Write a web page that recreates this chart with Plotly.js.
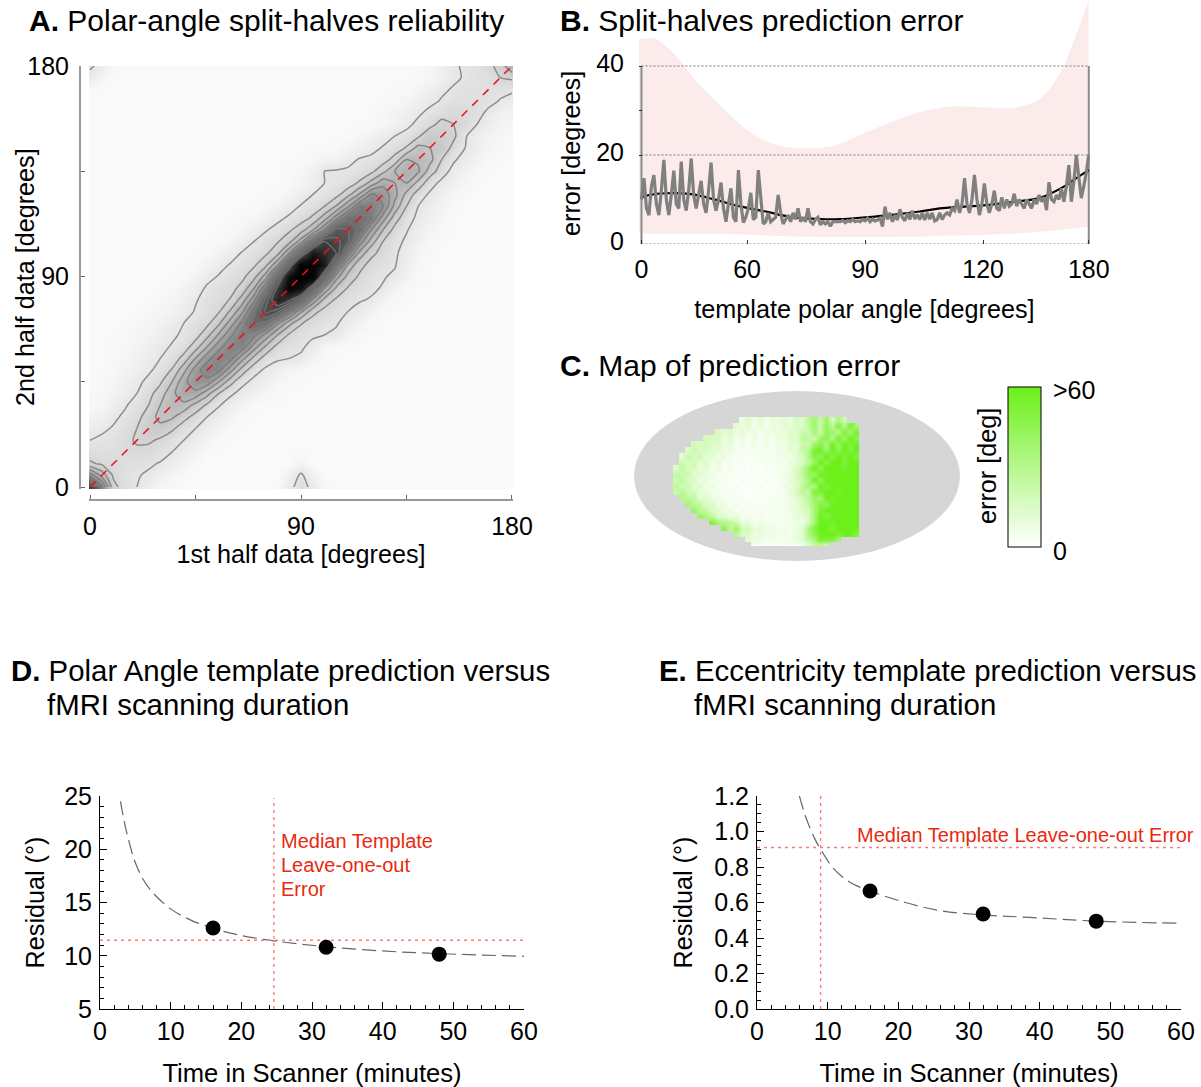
<!DOCTYPE html>
<html><head><meta charset="utf-8">
<script src="https://cdn.plot.ly/plotly-3.0.1.min.js"></script>
<style>html,body{margin:0;padding:0;background:#fff}</style></head>
<body><div id="chart" style="width:1201px;height:1087px"></div>
<script>
// ---------- Panel A: density (5 degree grid, 0-100 darkness) ----------
const reliabilityAxis = [0,5,10,15,20,25,30,35,40,45,50,55,60,65,70,75,80,85,90,95,100,105,110,115,120,125,130,135,140,145,150,155,160,165,170,175,180];
const reliabilityBackground = 2.5;
const reliabilityRowStart = [0,0,0,0,0,0,0,0,0,0,0,0,0,0,0,0,6,7,8,8,10,11,12,13,15,16,17,17,19,21,23,25,25,26,27,28,28];
const reliabilityRows = [
[70,42,18,13,10,7,4,3,2,2,2,2,2,2,2,2,3,8,13,8,3],
[38,26,15,12,10.5,9,6,4,3,2,2,2,2,2,2,2,2,6,11,6,2],
[17,15,14,13,12,11,9.5,7,5,3,2,2,2,2,2,2,2,2,5,2,2],
[13,12.5,13,14,14.5,14,12.5,10,7,5,3],
[10,11,12,14,17,17,15,12.5,10,7,5,3],
[7,9,10.5,13,16,20,20,17,13,10,7,5,3],
[5,6,9,11,14,19,24,23,18,14,10,7,5,3],
[3,4,6.5,9.5,12,16,22,27,26,20,15,10.5,7,5,3],
[2.5,3.5,5,7.5,10,14,19,26,33,32,24,16,11,8,6,4,3],
[2.5,3,4,6,8.5,11.5,15,22,32,39,38,28,18,11.5,8.5,6,4,3],
[2.5,2.5,3.5,5,6.5,9,12,16.5,26,37,44,42,30,19,12,9,6.5,4.5,3],
[2.5,2.5,3,4,5.5,7.5,10,12.5,18,28,38,44,42,30,20,13,11,10,9,5,3],
[2.5,2.5,3,3.5,5,6.5,8.5,10.5,13,19,28,38,44,44,31,21,14,12,11,8,4,3],
[2.5,2.5,2.5,3,4,5,7,9,11,13.5,20,29,39,46,42,32,22,15,12.5,11,10,9,5,3],
[2.5,2.5,2.5,2.5,3,4,5.5,7.5,10,12,14.5,21,31,42,54,50,35,24,16.5,13,11.5,10.5,8,5,3],
[2.5,2.5,2.5,2.5,2.5,3,4,5.5,7.5,10.5,13,15.5,23,33,50,66,60,44,29,18,14,12,10,8,5,3],
[3.5,4.5,6,9.5,12,13.5,16.5,25,38,60,80,72,56,33,20,15,12,10.5,9.5,5,3],
[3.5,5,7,11,12.5,14,18,28,46,72,94,88,60,34,21,15.5,12.5,11,9.5,5,3],
[3.5,5,8,10.5,12,14.5,20,31,56,88,100,96,58,31,20,15,12,10.5,9,5,3],
[2.5,3.5,5.5,8,10.5,12,15,20.5,33,60,96,94,84,50,27,18,14,12,10.5,6,3.5],
[3.5,5,7.5,10.5,12.5,15,20,34,58,84,76,70,44,26,17.5,14,11,7.5,4,3],
[3,4.5,7,10,12.5,15.5,20,31,50,70,66,60,38,25,16,12,9,6,3.5],
[3,4.5,6.5,9.5,12,15,19,27,40,60,58,50,34,22,14,10.5,7,4.5,3],
[3,4,6,8.5,11,13.5,17,25,37,50,50,46,31,19,12,9,6,4,2.5],
[3.5,5,7.5,10.5,12.5,16,22.5,33,46,45,40,26,16,10,7.5,5,3],
[3,4.5,7,10,11.5,14,20,29,41,38,30,20,13,9,6.5,4,2.5],
[3,4.5,7,10,11,12.5,17,24,32,28,28,20,12.5,8.5,6,4,2.5],
[3,4,6,10,10.5,11,12,14.5,20,28,30,29,19,13,8,5.5,3.5,2.5],
[3.5,5,6,8,10.5,11.5,13.5,18,28,27,24,16,11,7.5,5,3],
[3,4.5,6,8,10.5,13,16.5,24,22,21,14,10,6.5,4.5,3],
[4,5.5,7.5,10,12,15,21,19,17.5,10.5,7,5,4,3],
[3.5,5,8.5,11.5,14,18,16,15,10,7,5,4],
[3.5,5,6.5,9,11.5,13.5,15,14,12.5,8.5,6,5],
[3,4.5,6,8.5,10.5,12.5,12.5,12.5,12,9.5,8],
[3,4.5,6,9,10.5,12,12,12,12,11],
[3,4,6,9,10.5,12,13,16,17],
[3,4,6.5,9.5,10.5,12,14.5,18,28]
];
const topLeftSpotColumns = [[8,4],[11,8,3]]; // rows at 175 and 180 degrees
const identityX = [0,180];
const identityY = [0,180];

// ---------- Panel B ----------
const bandX = [-1,2,6,13,23,35,43.5,55,68,78,89.5,101,112.5,125,140,151,161,168.5,174,180];
const bandUpper = [46,46.2,46,42.8,36,29.4,25.2,22.2,21.5,22.2,24.9,27.5,29.7,30.9,30.7,30.7,33,38.4,45.8,54.8];
const bandLower = [2.3,2.3,2.3,2.3,2.3,2.2,2.1,1.8,1.6,1.6,1.6,1.6,1.7,1.9,2.1,2.4,2.8,3.2,3.5,3.9];
const meanX = [0,3,10,20,30,40,50,60,72,80,90,100,112,120,130,140,150,160,170,175,180];
const meanError = [10.5,11,11.4,11.2,9.9,8.4,7.3,6.1,5.6,5.6,6,6.5,7.3,8,8.4,8.8,9.5,10.3,12.9,14.8,16.6];
const splitError = [
10,14.8,8,6.5,13,15.5,9,6.5,12,18.9,
10,6.5,11,16.5,9,8,18.5,10,7.5,12,
19.2,11,8,11,14.2,9,7,12,18.3,10,
7.5,10,13.8,8,5,9,12.5,6,5,16.6,
9,4.8,6,8,11.5,5.5,6,16.6,10,4.5,
5,7,5,5.5,6,11,7,4.5,5.5,6.5,
5,7,5.5,8,5,6,5,8,5,4.5,
5.5,6,4.3,5,4.5,5,4,5,5,5,
5,5.3,4.8,5.2,5,5.5,5,5.2,5,5.5,
5.2,5.8,5,5.6,5.2,5.4,5.8,3.9,8.4,5.5,
7,5,6.5,5.4,7.8,6,5.2,7,5.5,7.5,
5.6,6.6,5.5,7,5.4,7,5.6,7,5.2,5.5,
7,5.5,6.5,7,6.5,8,7.5,10,7,9,
14.8,9,7,10,15.5,10,6.5,9,13.6,9,
7,9,12,8,7.5,10.5,8,10,8.5,9,
11.3,8.5,10,9,8,10,9,8,10,9,
11,9.5,10.5,7.6,13.9,10,9.5,11,10,12.5,
9.5,13,17.7,9.5,14,20,15,10.3,13,16,
20];
const errorGridLevels = [0,20,40];
const errorTickVals = [0,42.5,90,137.5,180];
const errorTickText = ['0','60','90','120','180'];

// ---------- Panel C: map cells, error in degrees ----------
const mapX = [676,682,688,694,700,706,712,718,724,730,736,742,748,754,760,766,772,778,784,790,796,802,808,814,820,826,832,838,844,850,856];
const mapY = [420,426,432,438,444,450,456,462,468,474,480,486,492,498,504,510,516,522,528,534,540,544];
const mapRowStart = [11,10,7,5,3,2,1,1,0,0,0,0,0,1,2,3,4,6,8,10,12,13];
const mapRows = [
[8,14,5,12,5,10,8,12,9,16,14,28,38,22,40,18,34,20],
[12,8,12,5,10,4,9,7,12,9,16,14,26,38,22,44,28,50,30,54,36],
[16,12,14,7,11,6,9,5,8,6,10,7,14,12,22,20,36,22,44,40,28,54,38,56],
[18,15,16,8,12,5,9,3,8,3,7,4,9,8,14,14,26,26,20,40,46,30,56,38,58,46],
[18,16,18,14,12,8,10,4,7,4,6,3,7,3,8,6,12,10,22,20,38,48,32,58,42,60,52,60],
[14,22,15,18,12,12,6,8,4,5,2,6,3,5,4,7,6,12,10,24,28,54,58,40,60,46,60,50,60],
[12,24,16,20,10,13,6,9,4,5,3,4,2,5,3,5,4,8,7,12,16,32,52,44,60,48,60,52,60,50],
[20,16,20,10,14,6,10,3,6,2,4,1,4,2,4,3,5,4,8,10,16,26,40,60,48,60,60,52,60,60],
[14,26,16,18,9,12,5,8,3,5,2,3,1,4,1,4,2,5,5,8,14,24,42,60,44,60,60,60,54,60,60],
[24,20,20,10,13,6,8,3,5,2,3,1,3,1,3,2,4,3,7,8,16,26,40,40,60,56,60,60,60,60,60],
[20,26,14,16,7,10,4,6,2,3,1,3,1,3,1,3,2,4,4,10,14,22,34,58,44,60,60,60,60,60,60],
[26,18,22,9,13,5,8,3,5,2,3,1,3,1,3,1,4,2,7,8,14,24,36,32,60,52,60,60,60,60,60],
[22,30,18,20,8,11,5,7,3,5,2,3,1,3,2,4,2,5,5,10,16,26,24,52,52,60,60,56,60,60,60],
[30,26,24,12,14,7,8,3,6,2,4,1,3,2,4,2,5,4,8,12,18,26,40,34,60,56,60,60,60,60],
[36,26,26,12,15,6,9,3,6,2,4,2,4,2,5,3,6,6,10,16,24,36,52,44,60,60,60,60,60],
[42,26,24,14,13,6,9,4,6,2,4,3,4,3,5,4,8,9,14,18,36,52,60,60,60,60,60,60],
[40,34,26,12,13,6,10,4,6,3,5,2,5,4,5,5,10,10,18,36,60,50,60,60,60,60,60],
[50,35,28,28,20,8,11,5,7,4,5,4,5,4,8,8,16,36,60,60,56,60,60,60,60],
[46,24,40,18,18,9,11,6,8,4,7,4,8,10,34,50,60,60,52,60,60,60,60],
[30,16,14,8,9,6,7,5,6,5,9,12,32,44,60,60,60,54,60,60,50],
[12,8,8,5,6,4,5,5,8,14,24,34,54,50,52,36],
[5,4,3,3,3,4,4,4,6,14,24,30,24]
];

// ---------- Panels D and E ----------
const scanMinutes = [16,32,48];
const polarResidual = [12.6,10.8,10.15];
const polarFitX = [2.9,3.7,5.2,7,10,13,16,18.6,24.6,32,40,48,60];
const polarFitY = [24.5,21.8,18.4,16.3,14.4,13.3,12.6,12.1,11.4,10.85,10.45,10.2,9.95];
const polarMedianMinutes = 24.6;
const polarMedianError = 11.45;
const eccResidual = [0.665,0.535,0.495];
const eccFitX = [6,7,8.2,9,10.9,13.2,16,21,26,32,38.6,48,60];
const eccFitY = [1.2,1.07,0.957,0.9,0.788,0.713,0.665,0.6,0.553,0.53,0.516,0.495,0.483];
const eccMedianMinutes = 9;
const eccMedianError = 0.91;

// ---------- helpers ----------
const W = 1201, H = 1087;
const FONT = 'Liberation Sans, Arial, Helvetica, sans-serif';
const domX = (a,b) => [a/W, b/W];
const domY = (top,bottom) => [1-bottom/H, 1-top/H];
const reliabilityZ = reliabilityRows.map((vals,i) => {
  const row = reliabilityAxis.map(() => reliabilityBackground);
  vals.forEach((v,k) => { row[reliabilityRowStart[i]+k] = v; });
  return row;
});
topLeftSpotColumns[0].forEach((v,k) => { reliabilityZ[35][k] = v; });
topLeftSpotColumns[1].forEach((v,k) => { reliabilityZ[36][k] = v; });
const mapZ = mapRows.map((vals,i) => {
  const row = mapX.map(() => null);
  vals.forEach((v,k) => { row[mapRowStart[i]+k] = v; });
  return row;
});
const note = (text,x,y,size,extra) => Object.assign({
  text, x:x/W, y:1-y/H, xref:'paper', yref:'paper', xanchor:'left', yanchor:'middle',
  showarrow:false, font:{family:FONT,size,color:'#000'}, align:'left'
}, extra||{});
const RED = '#ff7a7a', RTEXT = '#e8290f';
const TS = 25, TL = 25.2, TA = 30, TD = 29.4, TR = 20;
const redNote = (text,x,y) => note(text,x,y,TR,{font:{family:FONT,size:TR,color:RTEXT}});

const traces = [
  {type:'heatmap', x:reliabilityAxis, y:reliabilityAxis, z:reliabilityZ, zmin:0, zmax:100, zsmooth:'best', showscale:false,
   colorscale:[[0,'#ffffff'],[0.1,'#e6e6e6'],[0.3,'#b0b0b0'],[0.46,'#7c7c7c'],[0.7,'#3c3c3c'],[0.88,'#0c0c0c'],[1,'#000000']], xaxis:'x', yaxis:'y', hoverinfo:'skip'},
  {type:'contour', x:reliabilityAxis, y:reliabilityAxis, z:reliabilityZ, showscale:false, autocontour:false,
   contours:{coloring:'lines', start:10, end:70, size:6, showlabels:false}, zmin:10, zmax:70,
   colorscale:[[0,'#8e8e8e'],[1,'#6a6a6a']], line:{width:1.5, smoothing:0.6}, xaxis:'x', yaxis:'y', hoverinfo:'skip'},
  {type:'scatter', mode:'lines', x:identityX, y:identityY, line:{color:'#f01010',width:1.5,dash:'8px,7px'}, xaxis:'x', yaxis:'y'},

  {type:'scatter', mode:'lines', x:bandX, y:bandLower, line:{width:0,shape:'spline'}, xaxis:'x2', yaxis:'y2', hoverinfo:'skip'},
  {type:'scatter', mode:'lines', x:bandX, y:bandUpper, line:{width:0,shape:'spline'}, fill:'tonexty', fillcolor:'#fbeceb', xaxis:'x2', yaxis:'y2', hoverinfo:'skip'},
  ...errorGridLevels.map(level => ({type:'scatter', mode:'lines', x:[0,180], y:[level,level], line:{color:'#777',width:1,dash:'2px,2px'}, xaxis:'x2', yaxis:'y2'})),
  {type:'scatter', mode:'lines', x:[0,0], y:[0,40], line:{color:'#8a8a8a',width:2}, xaxis:'x2', yaxis:'y2'},
  {type:'scatter', mode:'lines', x:[180,180], y:[0,40], line:{color:'#8a8a8a',width:2}, xaxis:'x2', yaxis:'y2'},
  {type:'scatter', mode:'lines', x:meanX, y:meanError, line:{color:'#000',width:2.2,shape:'spline'}, xaxis:'x2', yaxis:'y2'},
  {type:'scatter', mode:'lines', x0:0, dx:1, y:splitError, line:{color:'#808080',width:3.2}, xaxis:'x2', yaxis:'y2'},

  {type:'heatmap', x:mapX, y:mapY, z:mapZ, zmin:0, zmax:60, zsmooth:'best', xaxis:'x3', yaxis:'y3', hoverinfo:'skip',
   colorscale:[[0,'#ffffff'],[1,'#6cf01a']],
   colorbar:{x:1008/W, xanchor:'left', y:1-547/H, yanchor:'bottom', len:160, lenmode:'pixels', thickness:33, thicknessmode:'pixels',
     xpad:0, ypad:0, outlinecolor:'#000', outlinewidth:1, tickvals:[], showticklabels:false, ticks:''}},

  {type:'scatter', mode:'lines', x:polarFitX, y:polarFitY, line:{color:'#666',width:1.2,dash:'14px,6px',shape:'spline'}, xaxis:'x4', yaxis:'y4'},
  {type:'scatter', mode:'lines', x:[polarMedianMinutes,polarMedianMinutes], y:[5,24.8], line:{color:RED,width:1.4,dash:'3px,4px'}, xaxis:'x4', yaxis:'y4'},
  {type:'scatter', mode:'lines', x:[0,60], y:[polarMedianError,polarMedianError], line:{color:RED,width:1.4,dash:'3px,4px'}, xaxis:'x4', yaxis:'y4'},
  {type:'scatter', mode:'markers', x:scanMinutes, y:polarResidual, marker:{color:'#000',size:15}, xaxis:'x4', yaxis:'y4'},

  {type:'scatter', mode:'lines', x:eccFitX, y:eccFitY, line:{color:'#666',width:1.2,dash:'14px,6px',shape:'spline'}, xaxis:'x5', yaxis:'y5'},
  {type:'scatter', mode:'lines', x:[eccMedianMinutes,eccMedianMinutes], y:[0,1.2], line:{color:RED,width:1.4,dash:'3px,4px'}, xaxis:'x5', yaxis:'y5'},
  {type:'scatter', mode:'lines', x:[0,60], y:[eccMedianError,eccMedianError], line:{color:RED,width:1.4,dash:'3px,4px'}, xaxis:'x5', yaxis:'y5'},
  {type:'scatter', mode:'markers', x:scanMinutes, y:eccResidual, marker:{color:'#000',size:15}, xaxis:'x5', yaxis:'y5'}
];

const scanX = (domain,anchor) => ({domain, anchor, range:[0,60], tickmode:'array', tickvals:[0,10,20,30,40,50,60], ticks:'inside', ticklen:7, tickwidth:1, tickcolor:'#000',
  showline:true, linecolor:'#000', linewidth:1, showgrid:false, zeroline:false, tickfont:{family:FONT,size:TS,color:'#000'}, ticklabelstandoff:0,
  minor:{dtick:2, ticks:'inside', ticklen:4, tickwidth:1, tickcolor:'#000', showgrid:false},
  title:{text:'Time in Scanner (minutes)', standoff:20, font:{family:FONT,size:25.6,color:'#000'}}});
const scanY = (domain,anchor,range,vals,text,minorStep,standoff) => ({domain, anchor, range, tickmode:'array', tickvals:vals, ticktext:text, ticks:'inside', ticklen:7, tickwidth:1, tickcolor:'#000',
  showline:true, linecolor:'#000', linewidth:1, showgrid:false, zeroline:false, tickfont:{family:FONT,size:TS,color:'#000'}, ticklabelstandoff:2,
  minor:{dtick:minorStep, ticks:'inside', ticklen:4, tickwidth:1, tickcolor:'#000', showgrid:false},
  title:{text:'Residual (°)', standoff, font:{family:FONT,size:TL,color:'#000'}}});

const layout = {
  width:W, height:H, margin:{l:0,r:0,t:0,b:0}, paper_bgcolor:'#fff', plot_bgcolor:'rgba(0,0,0,0)', showlegend:false, font:{family:FONT,color:'#000'},
  xaxis:{domain:domX(89,513), range:[-0.43,180.43], anchor:'free', position:1-500/H, tickmode:'array', tickvals:[0,45,90,135,180], ticktext:['0','','90','','180'],
    ticks:'inside', ticklen:4, tickwidth:1, tickcolor:'#666', showline:true, linecolor:'#999', linewidth:2, showgrid:false, zeroline:false,
    tickfont:{family:FONT,size:TS,color:'#000'}, ticklabelstandoff:4, title:{text:'1st half data [degrees]', standoff:0, font:{family:FONT,size:TL,color:'#000'}}},
  yaxis:{domain:domY(66,489), range:[-0.85,180], anchor:'free', position:80/W, tickmode:'array', tickvals:[0,45,90,135,180], ticktext:['0','','90','','180'],
    ticks:'inside', ticklen:4, tickwidth:1, tickcolor:'#666', showline:true, linecolor:'#999', linewidth:2, showgrid:false, zeroline:false,
    tickfont:{family:FONT,size:TS,color:'#000'}, ticklabelstandoff:5},
  xaxis2:{domain:domX(639,1090), range:[-1,180.5], anchor:'y2', tickmode:'array', tickvals:errorTickVals, ticktext:errorTickText, ticks:'inside', ticklen:4, tickwidth:1, tickcolor:'#333',
    showline:false, showgrid:false, zeroline:false, tickfont:{family:FONT,size:TS,color:'#000'}, ticklabelstandoff:8, title:{text:'template polar angle [degrees]', standoff:18, font:{family:FONT,size:TL,color:'#000'}}},
  yaxis2:{domain:domY(0,244), range:[0,54.83], anchor:'x2', tickmode:'array', tickvals:[0,20,30,40], ticktext:['0','20','','40'], ticks:'inside', ticklen:3, tickwidth:1, tickcolor:'#333',
    showline:false, showgrid:false, zeroline:false, tickfont:{family:FONT,size:TS,color:'#000'}, ticklabelstandoff:14, ticklabelshift:-3},
  xaxis3:{domain:domX(620,980), range:[620,980], anchor:'y3', visible:false},
  yaxis3:{domain:domY(380,570), range:[570,380], anchor:'x3', visible:false},
  xaxis4:scanX(domX(100,524),'y4'),
  yaxis4:scanY(domY(796,1009),'x4',[5,25],[5,10,15,20,25],['5','10','15','20','25'],1,12),
  xaxis5:scanX(domX(757,1181),'y5'),
  yaxis5:scanY(domY(796,1009),'x5',[0,1.2],[0,0.2,0.4,0.6,0.8,1.0,1.2],['0.0','0.2','0.4','0.6','0.8','1.0','1.2'],0.05,14),
  shapes:[{type:'circle', xref:'x3', yref:'y3', x0:634, x1:960, y0:391, y1:561, fillcolor:'#d6d6d6', line:{width:0}, layer:'below'}],
  annotations:[
    note('<b>A.</b> Polar-angle split-halves reliability',27,21,TA),
    note('<b>B.</b> Split-halves prediction error',558,21,TA),
    note('<b>C.</b> Map of prediction error',558,365,TA),
    note('<b>D.</b> Polar Angle template prediction versus',9,670,TD),
    note('fMRI scanning duration',45,704,TD),
    note('<b>E.</b> Eccentricity template prediction versus',657,670,TD),
    note('fMRI scanning duration',692,704,TD),
    note('2nd half data [degrees]',25,277,TL,{textangle:-90,xanchor:'center'}),
    note('error [degrees]',571,154,TL,{textangle:-90,xanchor:'center'}),
    note('error [deg]',987,466,TL,{textangle:-90,xanchor:'center'}),
    note('&gt;60',1051,390,TS),
    note('0',1051,551,TS),
    redNote('Median Template',279,841),
    redNote('Leave-one-out',279,865),
    redNote('Error',279,889),
    redNote('Median Template Leave-one-out Error',855,835)
  ]
};
Plotly.newPlot('chart', traces, layout, {staticPlot:true, displayModeBar:false});
</script></body></html>
